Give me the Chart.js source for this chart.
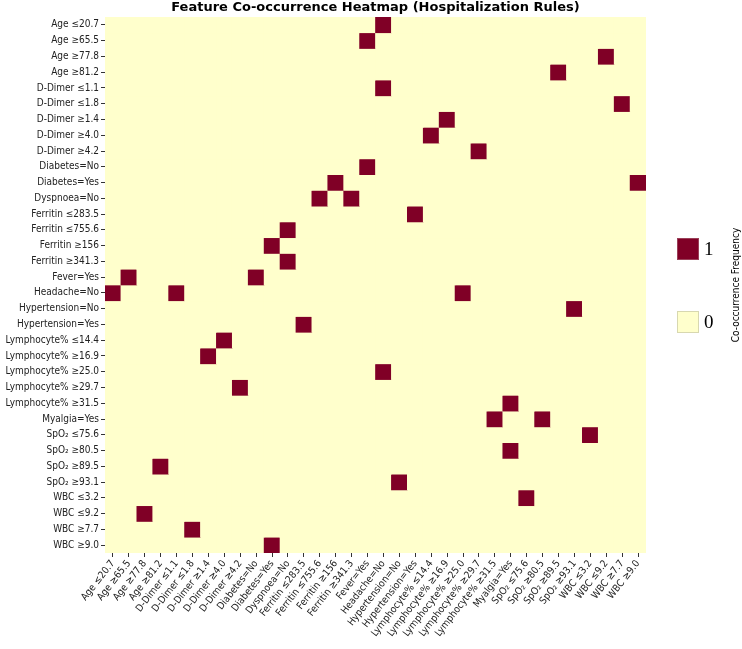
<!DOCTYPE html>
<html>
<head>
<meta charset="utf-8">
<title>Feature Co-occurrence Heatmap</title>
<script src="https://cdn.jsdelivr.net/npm/chart.js@4.4.1/dist/chart.umd.min.js"></script>
<style>
  html, body { margin: 0; padding: 0; background: #fff; }
  #wrap { width: 742px; height: 649px; position: relative; }
</style>
</head>
<body>
<div id="wrap"><canvas id="heatmap"></canvas></div>
<script>
// Rule features (same order on both axes)
const features = [
    "Age ≤20.7", "Age ≥65.5", "Age ≥77.8", "Age ≥81.2",
    "D-Dimer ≤1.1", "D-Dimer ≤1.8", "D-Dimer ≥1.4", "D-Dimer ≥4.0", "D-Dimer ≥4.2",
    "Diabetes=No", "Diabetes=Yes", "Dyspnoea=No",
    "Ferritin ≤283.5", "Ferritin ≤755.6", "Ferritin ≥156", "Ferritin ≥341.3",
    "Fever=Yes", "Headache=No", "Hypertension=No", "Hypertension=Yes",
    "Lymphocyte% ≤14.4", "Lymphocyte% ≥16.9", "Lymphocyte% ≥25.0", "Lymphocyte% ≥29.7", "Lymphocyte% ≥31.5",
    "Myalgia=Yes",
    "SpO₂ ≤75.6", "SpO₂ ≥80.5", "SpO₂ ≥89.5", "SpO₂ ≥93.1",
    "WBC ≤3.2", "WBC ≤9.2", "WBC ≥7.7", "WBC ≥9.0"
];

// Feature pairs that co-occur once (the matrix is symmetric)
const coPairs = [
    ["Age ≤20.7", "Headache=No"],
    ["Age ≥65.5", "Fever=Yes"],
    ["Age ≥77.8", "WBC ≤9.2"],
    ["Age ≥81.2", "SpO₂ ≥89.5"],
    ["D-Dimer ≤1.1", "Headache=No"],
    ["D-Dimer ≤1.8", "WBC ≥7.7"],
    ["D-Dimer ≥1.4", "Lymphocyte% ≥16.9"],
    ["D-Dimer ≥4.0", "Lymphocyte% ≤14.4"],
    ["D-Dimer ≥4.2", "Lymphocyte% ≥29.7"],
    ["Diabetes=No", "Fever=Yes"],
    ["Diabetes=Yes", "Ferritin ≥156"],
    ["Diabetes=Yes", "WBC ≥9.0"],
    ["Dyspnoea=No", "Ferritin ≤755.6"],
    ["Dyspnoea=No", "Ferritin ≥341.3"],
    ["Ferritin ≤283.5", "Hypertension=Yes"],
    ["Headache=No", "Lymphocyte% ≥25.0"],
    ["Hypertension=No", "SpO₂ ≥93.1"],
    ["Lymphocyte% ≥31.5", "Myalgia=Yes"],
    ["Myalgia=Yes", "SpO₂ ≥80.5"],
    ["SpO₂ ≤75.6", "WBC ≤3.2"]
];

const legendLevels = [1, 0];
const levelColors = { 0: "#ffffcc", 1: "#800026" };
const chartTitle = "Feature Co-occurrence Heatmap (Hospitalization Rules)";
const legendTitle = "Co-occurrence Frequency";

const SANS = '"DejaVu Sans Condensed", "DejaVu Sans", sans-serif';

// Build the symmetric matrix
const matrix = features.map(() => features.map(() => 0));
coPairs.forEach(([a, b]) => {
    const i = features.indexOf(a);
    const j = features.indexOf(b);
    matrix[i][j] = 1;
    matrix[j][i] = 1;
});

// One floating-bar dataset per row; each bar spans [row, row + 1] on the y scale
const datasets = features.map((rowName, r) => ({
    label: rowName,
    data: features.map(() => [r, r + 1]),
    backgroundColor: matrix[r].map(v => levelColors[v]),
    borderWidth: 0,
    grouped: false,
    barPercentage: 1,
    categoryPercentage: 1
}));

// Background under the cells, title over the heatmap, discrete legend on the right
const heatmapExtras = {
    id: "heatmapExtras",
    beforeDatasetsDraw(chart) {
        const { ctx, chartArea: a } = chart;
        ctx.save();
        ctx.fillStyle = levelColors[0];
        ctx.fillRect(a.left, a.top, a.right - a.left, a.bottom - a.top);
        ctx.restore();
    },
    afterDraw(chart) {
        const { ctx, chartArea: a } = chart;
        const midY = (a.top + a.bottom) / 2;
        ctx.save();

        // title centred on the heatmap
        ctx.fillStyle = "#000";
        ctx.font = 'bold 13px "DejaVu Sans", sans-serif';
        ctx.textAlign = "center";
        ctx.textBaseline = "middle";
        ctx.fillText(chartTitle, (a.left + a.right) / 2, 8);

        legendLevels.forEach((lvl, i) => {
            const x = a.right + 31;
            const y = midY - 47 + i * 73;
            ctx.fillStyle = levelColors[lvl];
            ctx.fillRect(x, y, 22, 22);
            ctx.strokeStyle = lvl === 0 ? "#d8d8b0" : "#9a4058";
            ctx.lineWidth = 1;
            ctx.strokeRect(x + 0.5, y + 0.5, 21, 21);
            ctx.fillStyle = "#000";
            ctx.font = '19px "Liberation Serif", serif';
            ctx.textBaseline = "middle";
            ctx.textAlign = "left";
            ctx.fillText(String(lvl), x + 27, y + 12);
        });

        ctx.translate(a.right + 90, midY);
        ctx.rotate(-Math.PI / 2);
        ctx.font = "10px " + SANS;
        ctx.textAlign = "center";
        ctx.textBaseline = "middle";
        ctx.fillStyle = "#000";
        ctx.fillText(legendTitle, 0, 0);
        ctx.restore();
    }
};

new Chart(document.getElementById("heatmap"), {
    type: "bar",
    data: {
        labels: features,
        datasets: datasets
    },
    options: {
        responsive: true,
        maintainAspectRatio: false,
        animation: false,
        layout: {
            padding: { top: 17, right: 96, bottom: 0, left: 0 }
        },
        plugins: {
            legend: { display: false },
            tooltip: { enabled: false },
            title: { display: false }
        },
        scales: {
            x: {
                type: "category",
                offset: true,
                border: { display: false },
                grid: { drawOnChartArea: false, offset: false, tickLength: 4, tickColor: "#333" },
                ticks: {
                    autoSkip: false,
                    maxRotation: 52,
                    minRotation: 52,
                    padding: 1,
                    color: "#222",
                    font: { family: SANS, size: 10 }
                },
                afterFit(scale) { scale.height = 96; }
            },
            y: {
                type: "linear",
                min: 0,
                max: features.length,
                reverse: true,
                border: { display: false },
                grid: { drawOnChartArea: false, tickLength: 4, tickColor: "#333" },
                afterBuildTicks(scale) {
                    scale.ticks = features.map((f, i) => ({ value: i + 0.5 }));
                },
                ticks: {
                    autoSkip: false,
                    padding: 2,
                    color: "#222",
                    font: { family: SANS, size: 10 },
                    callback: (value) => features[Math.floor(value)]
                },
                afterFit(scale) { scale.width = 105; }
            }
        }
    },
    plugins: [heatmapExtras]
});
</script>
</body>
</html>
